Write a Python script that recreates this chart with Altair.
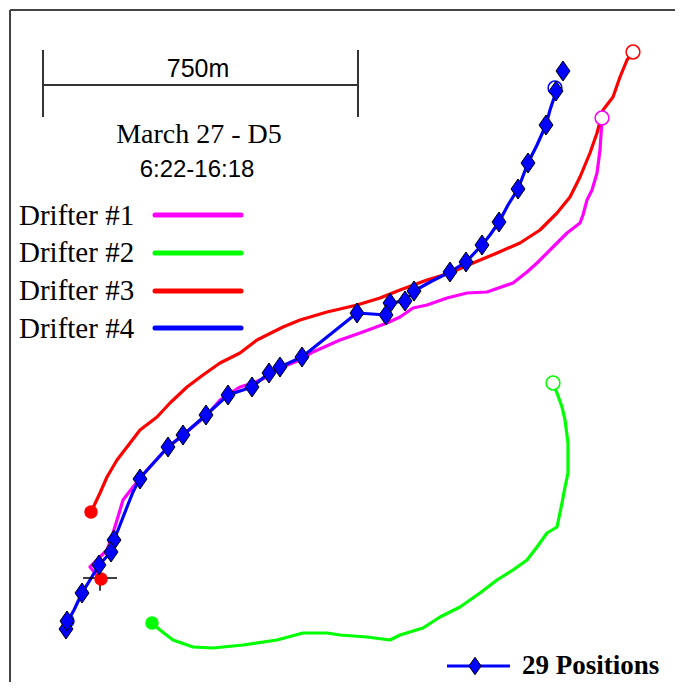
import altair as alt
import pandas as pd

# ---- Drifter tracks (local grid units, ~2.38 m per unit; y grows southward) ----
d1_x = [602, 601, 600, 597, 592, 587, 583, 580, 567, 553, 537, 527, 513, 487, 467, 447, 427, 413, 400, 387, 360, 340, 313, 300, 280, 267, 253, 240, 227, 220, 207, 183, 167, 147, 133, 123, 117, 113, 107, 97, 90, 95, 100]
d1_y = [118, 135, 150, 173, 190, 200, 215, 223, 233, 247, 263, 272, 283, 292, 293, 298, 305, 308, 317, 323, 333, 340, 352, 360, 368, 377, 383, 387, 395, 400, 415, 435, 448, 470, 487, 500, 520, 533, 550, 560, 567, 573, 578]

d2_x = [553, 557, 562, 565, 568, 568, 565, 562, 557, 547, 537, 527, 513, 497, 480, 460, 440, 423, 400, 390, 367, 340, 327, 303, 277, 243, 213, 193, 173, 160, 152]
d2_y = [383, 393, 407, 420, 443, 473, 487, 503, 527, 533, 547, 560, 570, 580, 593, 607, 617, 628, 635, 640, 637, 635, 633, 633, 640, 645, 648, 647, 640, 630, 623]

d3_x = [633, 627, 620, 613, 603, 597, 590, 580, 570, 557, 540, 520, 497, 473, 450, 427, 400, 380, 357, 327, 300, 283, 257, 240, 220, 203, 187, 170, 157, 140, 127, 117, 107, 100, 92]
d3_y = [52, 60, 77, 97, 110, 133, 153, 177, 197, 213, 230, 243, 253, 263, 273, 280, 290, 298, 305, 312, 320, 327, 340, 353, 363, 375, 387, 403, 417, 430, 447, 460, 477, 493, 510]

d4_x = [555, 556, 550, 546, 537, 528, 518, 508, 499, 490, 482, 466, 450, 432, 414, 405, 390, 386, 372, 357, 302, 280, 269, 252, 228, 206, 183, 168, 140, 133, 127, 120, 114, 111, 99, 90, 82, 74, 68, 66]
d4_y = [88, 92, 110, 125, 145, 163, 189, 205, 222, 235, 245, 262, 272, 281, 291, 301, 303, 315, 314, 313, 357, 367, 373, 387, 395, 415, 435, 447, 478, 492, 507, 525, 540, 552, 565, 580, 593, 610, 621, 629]

# 29 position fixes of drifter #4
pos_x = [563, 556, 546, 528, 518, 499, 482, 466, 450, 414, 405, 390, 386, 357, 302, 280, 269, 252, 228, 206, 183, 168, 140, 114, 111, 99, 82, 66, 67]
pos_y = [71, 91, 125, 163, 189, 222, 245, 262, 272, 291, 301, 303, 315, 313, 357, 367, 373, 387, 395, 415, 435, 447, 479, 540, 552, 565, 593, 629, 621]

drifters = ["Drifter #1", "Drifter #2", "Drifter #3", "Drifter #4"]
colors = ["#ff00ff", "#00ff00", "#ff0000", "#0000ff"]

start_x = [602, 553, 633, 555]
start_y = [118, 383, 52, 88]
end_drifter = ["Drifter #3", "Drifter #2", "Drifter #3", "Drifter #4"]
end_x = [91, 152, 101, 68]
end_y = [512, 623, 579, 621]

legend_y_text = [225, 262, 300, 338]
legend_y_line = [215, 253, 291, 328]

rows = []
for name, xs, ys in zip(drifters, [d1_x, d2_x, d3_x, d4_x], [d1_y, d2_y, d3_y, d4_y]):
    for i, (a, b) in enumerate(zip(xs, ys)):
        rows.append({"drifter": name, "i": i, "x": a, "y": b})
tracks = pd.DataFrame(rows)

XS = alt.Scale(domain=[8, 675], nice=False, zero=False)
YS = alt.Scale(domain=[8, 682], nice=False, zero=False, reverse=True)
X = alt.X("x:Q", scale=XS, axis=None)
Y = alt.Y("y:Q", scale=YS, axis=None)
C = alt.Color("drifter:N", scale=alt.Scale(domain=drifters, range=colors), legend=None)

diamond = "M0,-1.43L1,0L0,1.43L-1,0Z"

# frame (left and top)
frame = pd.DataFrame({"x": [10, 10], "x2": [10, 675], "y": [10, 10], "y2": [682, 10]})
frame_l = alt.Chart(frame).mark_rule(color="#444444", strokeWidth=2).encode(
    x=X, y=Y, x2="x2:Q", y2="y2:Q")

# scale bar
bar = pd.DataFrame({"x": [43, 43, 358], "x2": [358, 43, 358], "y": [85, 50, 50], "y2": [85, 117, 117]})
bar_l = alt.Chart(bar).mark_rule(color="#333333", strokeWidth=2).encode(
    x=X, y=Y, x2="x2:Q", y2="y2:Q")

lines = alt.Chart(tracks).mark_line(strokeWidth=3.2, strokeJoin="round").encode(
    x=X, y=Y, color=C, order="i:Q")

cross = alt.Chart(pd.DataFrame({"x": [100], "y": [578]})).mark_point(
    shape="M-1,0H1M0,-0.75V0.75", size=1156, stroke="black", strokeWidth=1.5, filled=False, opacity=1
).encode(x=X, y=Y)

ends = alt.Chart(pd.DataFrame({"drifter": end_drifter, "x": end_x, "y": end_y})).mark_circle(
    size=180, opacity=1).encode(x=X, y=Y, color=C)

starts = alt.Chart(pd.DataFrame({"drifter": drifters, "x": start_x, "y": start_y})).mark_point(
    shape="circle", size=190, fill="white", fillOpacity=1, strokeWidth=1.5, opacity=1
).encode(x=X, y=Y, color=C)

pos = alt.Chart(pd.DataFrame({"x": pos_x, "y": pos_y})).mark_point(
    shape=diamond, size=196, filled=True, fill="#0000ff", stroke="black", strokeWidth=1, opacity=1
).encode(x=X, y=Y)

# legend
leg = pd.DataFrame({"drifter": drifters, "x": [19] * 4, "y": legend_y_text,
                    "lx": [155] * 4, "lx2": [241] * 4, "ly": legend_y_line})
leg_text = alt.Chart(leg).mark_text(
    align="left", baseline="alphabetic", font="Liberation Serif", fontSize=29, color="black"
).encode(x=X, y=Y, text="drifter:N")
leg_lines = alt.Chart(leg).mark_rule(strokeWidth=5, strokeCap="round").encode(
    x=alt.X("lx:Q", scale=XS, axis=None),
    x2="lx2:Q",
    y=alt.Y("ly:Q", scale=YS, axis=None),
    color=C)

t750 = alt.Chart(pd.DataFrame({"x": [198], "y": [77], "t": ["750m"]})).mark_text(
    align="center", baseline="alphabetic", font="Liberation Sans", fontSize=25, color="black"
).encode(x=X, y=Y, text="t:N")
tdate = alt.Chart(pd.DataFrame({"x": [199], "y": [143], "t": ["March 27 - D5"]})).mark_text(
    align="center", baseline="alphabetic", font="Liberation Serif", fontSize=28, color="black"
).encode(x=X, y=Y, text="t:N")
ttime = alt.Chart(pd.DataFrame({"x": [197], "y": [177], "t": ["6:22-16:18"]})).mark_text(
    align="center", baseline="alphabetic", font="Liberation Sans", fontSize=24, color="black"
).encode(x=X, y=Y, text="t:N")

# positions legend
pl_line = alt.Chart(pd.DataFrame({"x": [447], "x2": [510], "y": [666]})).mark_rule(
    color="#0000ff", strokeWidth=3).encode(x=X, x2="x2:Q", y=Y)
pl_dia = alt.Chart(pd.DataFrame({"x": [475], "y": [666]})).mark_point(
    shape=diamond, size=150, filled=True, fill="#0000ff", stroke="black", strokeWidth=1, opacity=1
).encode(x=X, y=Y)
pl_text = alt.Chart(pd.DataFrame({"x": [522], "y": [674], "t": ["29 Positions"]})).mark_text(
    align="left", baseline="alphabetic", font="Liberation Serif", fontSize=27, fontWeight="bold", color="black"
).encode(x=X, y=Y, text="t:N")

chart = alt.layer(
    frame_l, bar_l, lines, cross, ends, starts, pos,
    leg_lines, leg_text, t750, tdate, ttime, pl_line, pl_dia, pl_text
).properties(
    width=667, height=674, padding=0, autosize="none", background="white"
).configure_view(stroke=None)

chart.save("out.html", embed_options={"renderer": "svg", "actions": False})
